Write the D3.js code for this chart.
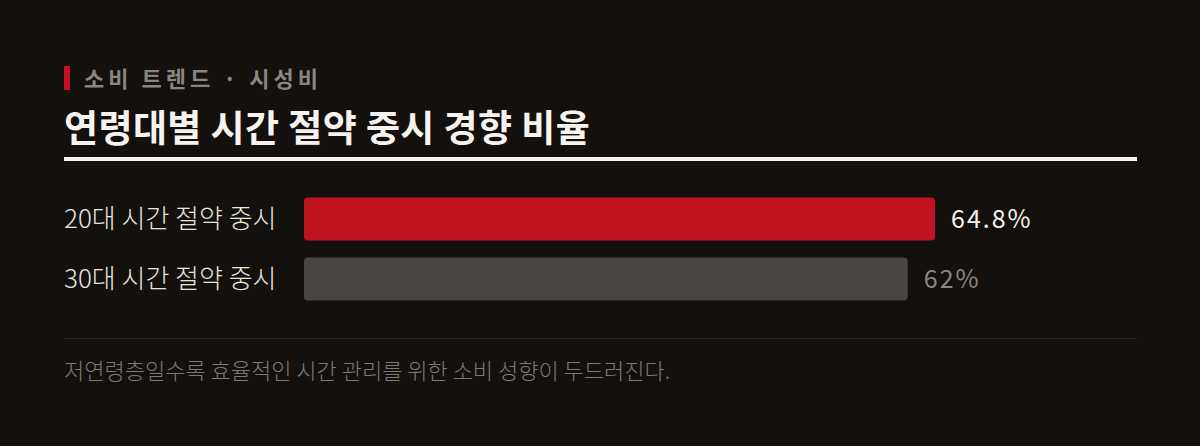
<!DOCTYPE html>
<html><head><meta charset="utf-8">
<script src="https://cdn.jsdelivr.net/npm/d3@7"></script>
<style>
html,body{margin:0;padding:0;background:#13100e;}
svg{display:block;font-family:"Noto Sans CJK KR","Noto Sans",sans-serif;}
</style></head>
<body><svg id="c" width="1200" height="446"></svg>
<script>
const categories = ["20대 시간 절약 중시", "30대 시간 절약 중시"];
const values = [64.8, 62];
const valueLabels = ["64.8%", "62%"];
const kicker = "소비 트렌드 · 시성비";
const title = "연령대별 시간 절약 중시 경향 비율";
const note = "저연령층일수록 효율적인 시간 관리를 위한 소비 성향이 두드러진다.";

const svg = d3.select("#c");
svg.append("rect").attr("width",1200).attr("height",446).attr("fill","#13100e");

svg.append("rect").attr("x",64).attr("y",66).attr("width",6).attr("height",24).attr("fill","#c0121f");
svg.append("text").attr("x",84).attr("y",87).attr("fill","#8b8580")
  .attr("font-size",22).attr("font-weight",700).attr("letter-spacing",4).text(kicker);
svg.append("text").attr("x",64).attr("y",142).attr("fill","#f6f3ee")
  .attr("font-size",37).attr("font-weight",700).attr("letter-spacing",0.4).text(title);
svg.append("rect").attr("x",64).attr("y",157).attr("width",1073).attr("height",4).attr("fill","#f6f3ee");

const x = d3.scaleLinear().domain([0, 100]).range([304, 304 + 973.8]);
const y = d3.scaleBand().domain(categories).range([189, 309]).paddingInner(0.28).paddingOuter(0.14);

const colors = ["#c0121f", "#4b4541"];
const labelColors = ["#f6f3ee", "#8b8580"];

const g = svg.append("g");
categories.forEach((c,i)=>{
  g.append("text").attr("x",64).attr("y",y(c)+y.bandwidth()/2).attr("dy","0.36em")
    .attr("fill","#e8e4de").attr("font-size",26).attr("font-weight",300).text(c);
  g.append("rect").attr("x",x(0)).attr("y",y(c)).attr("width",x(values[i])-x(0))
    .attr("height",y.bandwidth()).attr("rx",4).attr("fill",colors[i]);
  g.append("text").attr("x",x(values[i])+16).attr("y",y(c)+y.bandwidth()/2).attr("dy","0.36em")
    .attr("fill",labelColors[i]).attr("font-size",25).attr("font-weight",400)
    .attr("letter-spacing",2).text(valueLabels[i]);
});

svg.append("rect").attr("x",64).attr("y",338).attr("width",1073).attr("height",1).attr("fill","#2b2623");
svg.append("text").attr("x",64).attr("y",379).attr("fill","#7f7974")
  .attr("font-size",22).attr("font-weight",300).text(note);
</script></body></html>
